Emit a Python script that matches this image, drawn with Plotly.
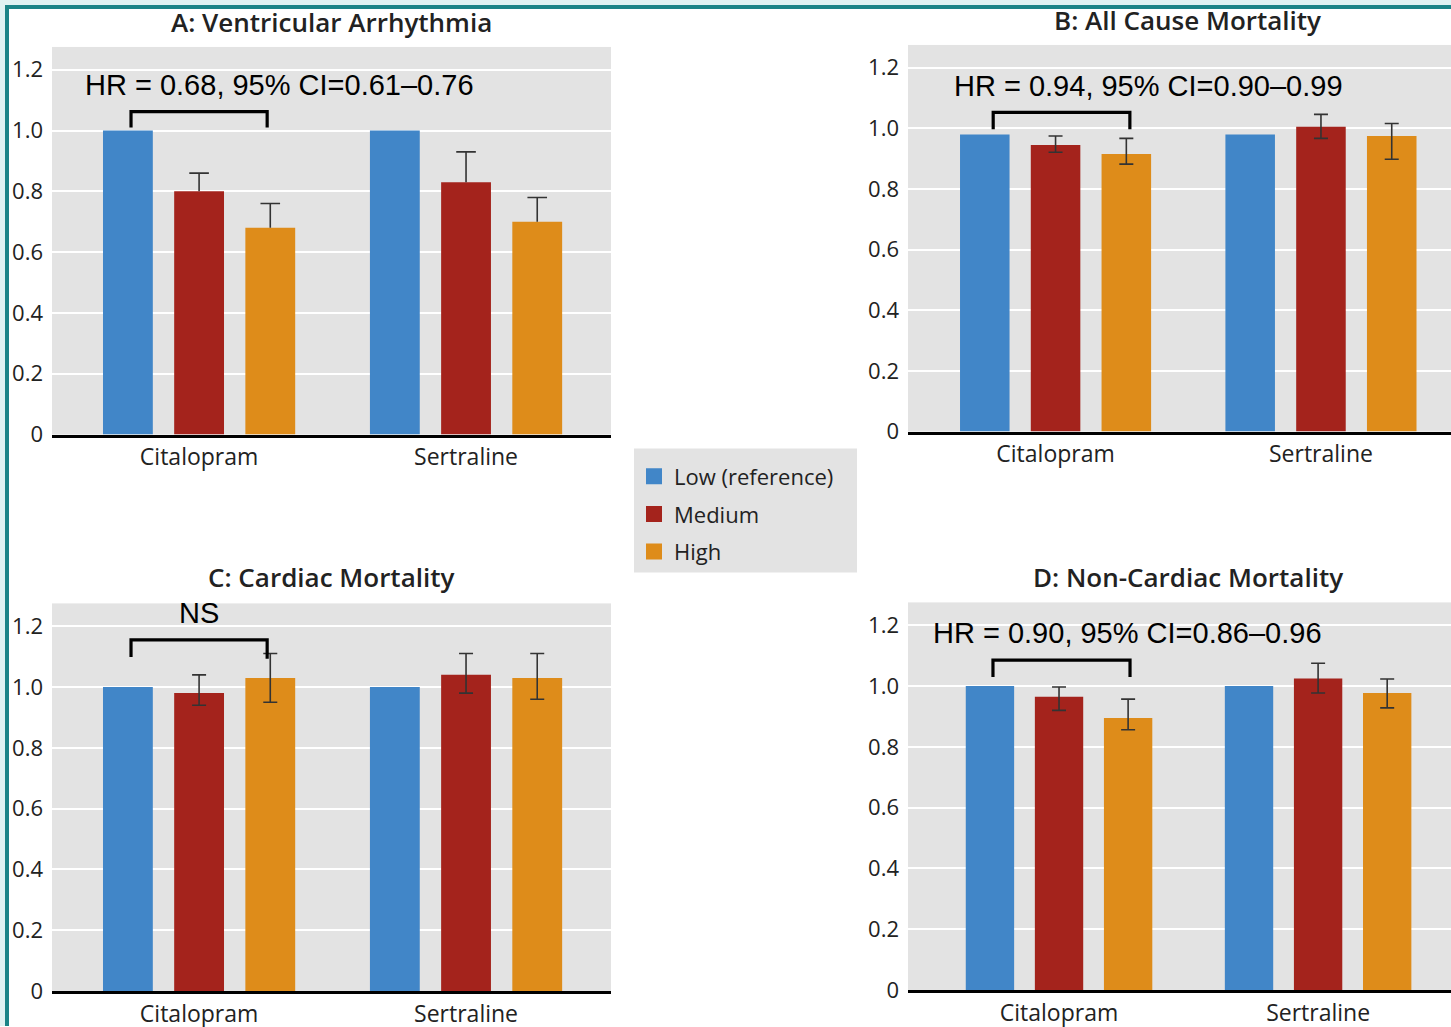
import plotly.graph_objects as go

# ---------------- data ----------------
categories = ["Citalopram", "Sertraline"]
series_names = ["Low (reference)", "Medium", "High"]
tick_vals = [0, 0.2, 0.4, 0.6, 0.8, 1.0, 1.2]
tick_text = ["0", "0.2", "0.4", "0.6", "0.8", "1.0", "1.2"]

panel_titles = ["A: Ventricular Arrhythmia", "B: All Cause Mortality",
                "C: Cardiac Mortality", "D: Non-Cardiac Mortality"]
panel_notes = ["HR = 0.68, 95% CI=0.61\u20130.76", "HR = 0.94, 95% CI=0.90\u20130.99",
               "NS", "HR = 0.90, 95% CI=0.86\u20130.96"]

# Panel A (only upper error bars shown)
a_low = [1.00, 1.00]
a_med = [0.80, 0.83]
a_high = [0.68, 0.70]
a_med_hi = [0.86, 0.93]
a_high_hi = [0.76, 0.78]

# Panel B
b_low = [0.98, 0.98]
b_med = [0.945, 1.005]
b_high = [0.915, 0.975]
b_med_hi = [0.975, 1.046]
b_med_lo = [0.921, 0.967]
b_high_hi = [0.967, 1.016]
b_high_lo = [0.882, 0.898]

# Panel C
c_low = [1.00, 1.00]
c_med = [0.98, 1.04]
c_high = [1.03, 1.03]
c_med_hi = [1.04, 1.11]
c_med_lo = [0.94, 0.98]
c_high_hi = [1.11, 1.11]
c_high_lo = [0.95, 0.96]

# Panel D
d_low = [1.00, 1.00]
d_med = [0.965, 1.025]
d_high = [0.895, 0.977]
d_med_hi = [0.997, 1.075]
d_med_lo = [0.920, 0.977]
d_high_hi = [0.957, 1.023]
d_high_lo = [0.856, 0.928]

# ---------------- style ----------------
W, H = 1451, 1027          # reference pixel space
FIG_H = 1040               # rendered page height
colors = ["#4186c8", "#a4231c", "#de8c1a"]
bg_gray = "#e3e3e3"
txt = "#222222"
err_color = "#333333"
label_font = "Open Sans"
note_font = "Liberation Sans"
BARGAP = 0.2
BARGROUPGAP = 0.3


def px_x(p):
    return p / W


def px_y(p):
    return 1 - p / H


cat_pos = list(range(len(categories)))
# centre offset of each series inside a category group (barmode="group")
slot = (1 - BARGAP) / len(series_names)
series_offset = [(s - (len(series_names) - 1) / 2) * slot for s in range(len(series_names))]

# plot-area pixel boxes: (left, right, top, bottom)
boxes = [(52, 611, 47, 435), (908, 1467, 45, 432),
         (52, 611, 604, 992), (908, 1467, 603, 991)]
xranges = [(-0.551, 1.543), (-0.556, 1.49), (-0.551, 1.543), (-0.583, 1.513)]
yrange = (0, 1.275)

# (values per series, (upper, lower) CI per series; lower None -> upper only)
panels = [
    ([a_low, a_med, a_high], [None, (a_med_hi, None), (a_high_hi, None)]),
    ([b_low, b_med, b_high], [None, (b_med_hi, b_med_lo), (b_high_hi, b_high_lo)]),
    ([c_low, c_med, c_high], [None, (c_med_hi, c_med_lo), (c_high_hi, c_high_lo)]),
    ([d_low, d_med, d_high], [None, (d_med_hi, d_med_lo), (d_high_hi, d_high_lo)]),
]

fig = go.Figure()

for i, (vals, errs) in enumerate(panels):
    xa = "x" if i == 0 else f"x{i+1}"
    ya = "y" if i == 0 else f"y{i+1}"
    for s in range(3):
        err = dict(visible=False)
        cap_trace = None
        if errs[s] is not None:
            hi, lo = errs[s]
            plus = [h - v for h, v in zip(hi, vals[s])]
            if lo is None:
                # upper whisker only: stem from bar top, cap drawn at the upper value
                err = dict(type="data", symmetric=False, array=plus,
                           arrayminus=[0] * len(plus), color=err_color,
                           thickness=1.6, width=0)
                cap_trace = go.Scatter(
                    x=[p + series_offset[s] for p in cat_pos], y=hi, mode="markers",
                    marker=dict(symbol="line-ew", size=14, color=err_color,
                                line=dict(color=err_color, width=1.6)),
                    xaxis=xa, yaxis=ya, showlegend=False, hoverinfo="skip",
                )
            else:
                minus = [v - l for l, v in zip(lo, vals[s])]
                err = dict(type="data", symmetric=False, array=plus, arrayminus=minus,
                           color=err_color, thickness=1.6, width=7)
        fig.add_trace(go.Bar(
            x=cat_pos, y=vals[s], name=series_names[s],
            marker=dict(color=colors[s], line=dict(width=0)),
            error_y=err, xaxis=xa, yaxis=ya,
            legendgroup=series_names[s], showlegend=False,
        ))
        if cap_trace is not None:
            fig.add_trace(cap_trace)

# legend entries (square swatches)
for s in range(3):
    fig.add_trace(go.Scatter(
        x=[None], y=[None], mode="markers", name=series_names[s],
        marker=dict(symbol="square", size=16, color=colors[s], line=dict(width=0)),
        legendgroup=series_names[s], showlegend=True, xaxis="x", yaxis="y",
    ))

layout_axes = {}
for i, (l, r, t, b) in enumerate(boxes):
    sx = "" if i == 0 else str(i + 1)
    x0 = px_x(l)
    x1 = min(1.0, px_x(r))
    layout_axes[f"xaxis{sx}"] = dict(
        domain=[x0, x1], anchor=f"y{sx}", type="linear",
        tickvals=cat_pos, ticktext=categories,
        range=list(xranges[i]), showgrid=False, zeroline=False,
        showline=True, linecolor="black", linewidth=3, ticks="",
        tickfont=dict(family=label_font, size=23, color=txt),
        fixedrange=True,
    )
    layout_axes[f"yaxis{sx}"] = dict(
        domain=[px_y(b), px_y(t)], anchor=f"x{sx}", range=list(yrange),
        tickvals=tick_vals, ticktext=tick_text, showgrid=True,
        gridcolor="white", gridwidth=2, zeroline=False, showline=False,
        ticks="", ticklabelstandoff=8,
        tickfont=dict(family=label_font, size=22, color=txt),
        fixedrange=True,
    )

annotations = []
shapes = []

# Panel titles
title_y = [22, 20, 578, 578]
for i, (l, r, t, b) in enumerate(boxes):
    annotations.append(dict(
        text=panel_titles[i], xref="paper", yref="paper",
        x=px_x((l + r) / 2), y=px_y(title_y[i]), xanchor="center", yanchor="middle",
        showarrow=False, font=dict(family=label_font, size=26, color=txt, weight=600),
    ))

# Notes (HR text) and brackets, in each panel's data coordinates
note_pos = [(-0.434, 1.151, "left"), (-0.39, 1.141, "left"),
            (0.0, 1.243, "center"), (-0.494, 1.173, "left")]
brackets = [(-0.255, 0.255, 1.062, 1.010, 1.010),
            (-0.235, 0.280, 1.053, 0.997, 0.997),
            (-0.255, 0.255, 1.155, 1.099, 1.093),
            (-0.255, 0.274, 1.085, 1.030, 1.030)]
for i in range(4):
    sx = "" if i == 0 else str(i + 1)
    nx, ny, anc = note_pos[i]
    annotations.append(dict(
        text=panel_notes[i], xref=f"x{sx}", yref=f"y{sx}", x=nx, y=ny,
        xanchor=anc, yanchor="middle", showarrow=False,
        font=dict(family=note_font, size=29, color="black"),
    ))
    bx0, bx1, btop, bl, br = brackets[i]
    shapes.append(dict(
        type="path", xref=f"x{sx}", yref=f"y{sx}",
        path=f"M {bx0},{bl} L {bx0},{btop} L {bx1},{btop} L {bx1},{br}",
        line=dict(color="black", width=3.2),
    ))

# Legend box
shapes.append(dict(type="rect", xref="paper", yref="paper",
                   x0=px_x(634), x1=px_x(857), y0=px_y(573), y1=px_y(449),
                   fillcolor=bg_gray, line=dict(width=0), layer="below"))

# Frame border (teal) on the left and top edges
shapes += [
    dict(type="rect", xref="paper", yref="paper", x0=0, x1=px_x(9), y0=0, y1=1,
         fillcolor="#1b8487", line=dict(width=0), layer="above"),
    dict(type="rect", xref="paper", yref="paper", x0=0, x1=1, y0=px_y(9), y1=1,
         fillcolor="#1b8487", line=dict(width=0), layer="above"),
    dict(type="rect", xref="paper", yref="paper", x0=0, x1=px_x(5), y0=0, y1=1,
         fillcolor="#dff2f2", line=dict(width=0), layer="above"),
    dict(type="rect", xref="paper", yref="paper", x0=0, x1=1, y0=px_y(5), y1=1,
         fillcolor="#dff2f2", line=dict(width=0), layer="above"),
]

fig.update_layout(
    width=W, height=FIG_H, autosize=False,
    margin=dict(l=0, r=0, t=0, b=0),
    paper_bgcolor="white", plot_bgcolor=bg_gray,
    barmode="group", bargap=BARGAP, bargroupgap=BARGROUPGAP,
    showlegend=True,
    legend=dict(
        x=px_x(634), y=px_y(456), xanchor="left", yanchor="top",
        bgcolor="rgba(0,0,0,0)", borderwidth=0, tracegroupgap=6,
        font=dict(family=label_font, size=22, color=txt),
        itemclick=False, itemdoubleclick=False,
    ),
    annotations=annotations, shapes=shapes,
    **layout_axes,
)

page_fix = (
    "document.documentElement.style.margin='0';"
    "document.documentElement.style.overflow='hidden';"
    "document.body.style.margin='0';"
    "document.body.style.overflow='hidden';"
    f"document.body.style.height='{FIG_H}px';"
    "var g=document.getElementById('{plot_id}');"
    f"g.parentElement.style.height='{FIG_H}px';"
    "g.parentElement.style.overflow='hidden';"
)

fig.write_html("out.html", config={"displayModeBar": False, "staticPlot": True},
               post_script=page_fix)
